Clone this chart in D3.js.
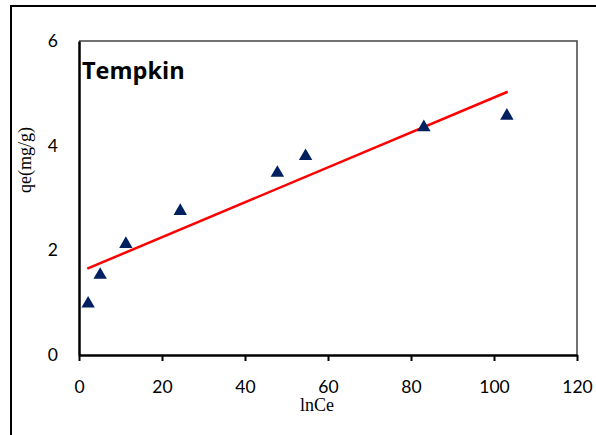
<!DOCTYPE html>
<html>
<head>
<meta charset="utf-8">
<script src="https://cdn.jsdelivr.net/npm/d3@7"></script>
<style>
  body { margin: 0; background: #fff; }
  svg { display: block; }
</style>
</head>
<body>
<div class="container"></div>
<script>
// measured points (lnCe, qe)
var lnCe = [2.2, 5.1, 11.3, 24.4, 47.8, 54.6, 83.1, 103.1];
var qe = [0.98, 1.53, 2.12, 2.75, 3.48, 3.80, 4.35, 4.57];

// trend line ends
var fitX = [2.0, 103.3];
var fitY = [1.65, 5.03];

var xTicks = [0, 20, 40, 60, 80, 100, 120];
var yTicks = [0, 2, 4, 6];

const WIDTH = 596;
const HEIGHT = 435;
const LEFT = 79, RIGHT = 577, TOP = 41, BOTTOM = 355;

var svg = d3.select('.container').append('svg')
    .attr('width', WIDTH)
    .attr('height', HEIGHT);

// outer chart frame (runs off the right and bottom edge)
svg.append('rect')
    .attr('x', 11).attr('y', 6)
    .attr('width', 600).attr('height', 440)
    .attr('fill', 'none')
    .attr('stroke', '#000')
    .attr('stroke-width', 2);

var xScale = d3.scaleLinear().domain([0, 120]).range([LEFT, RIGHT]);
var yScale = d3.scaleLinear().domain([0, 6]).range([BOTTOM, TOP]);

// plot area top/right border
svg.append('path')
    .attr('d', 'M' + LEFT + ',' + TOP + 'H' + RIGHT + 'V' + BOTTOM)
    .attr('fill', 'none')
    .attr('stroke', '#444')
    .attr('stroke-width', 1.5);

var xAxis = svg.append('g')
    .attr('transform', 'translate(0,' + BOTTOM + ')')
    .call(d3.axisBottom(xScale).tickValues(xTicks).tickFormat(d3.format('d'))
        .tickSize(6).tickPadding(20).tickSizeOuter(0));
xAxis.select('.domain').attr('stroke-width', 2.5);
xAxis.selectAll('.tick line').attr('stroke-width', 2);
xAxis.selectAll('text')
    .attr('font-family', 'Lato, sans-serif')
    .attr('font-size', 17.5)
    .attr('fill', '#000');

var yAxis = svg.append('g')
    .attr('transform', 'translate(' + LEFT + ',0)')
    .call(d3.axisLeft(yScale).tickValues(yTicks).tickFormat(d3.format('d'))
        .tickSize(0).tickPadding(21).tickSizeOuter(0));
yAxis.select('.domain').attr('stroke-width', 2.5);
yAxis.selectAll('text')
    .attr('font-family', 'Lato, sans-serif')
    .attr('font-size', 17.5)
    .attr('fill', '#000');

// trend line
svg.append('path')
    .attr('d', d3.line()
        .x(function (d) { return xScale(d); })
        .y(function (d, i) { return yScale(fitY[i]); })(fitX))
    .attr('fill', 'none')
    .attr('stroke', '#ff0000')
    .attr('stroke-width', 2.5);

// markers
svg.selectAll('.pt')
    .data(lnCe)
    .enter().append('path')
    .attr('class', 'pt')
    .attr('d', d3.symbol().type(d3.symbolTriangle).size(78))
    .attr('transform', function (d, i) {
        return 'translate(' + xScale(d) + ',' + yScale(qe[i]) + ')';
    })
    .attr('fill', '#002060');

svg.append('text')
    .attr('x', 82).attr('y', 79)
    .attr('font-family', '"Open Sans", sans-serif')
    .attr('font-weight', 'bold')
    .attr('font-size', 23.5)
    .text('Tempkin');

svg.append('text')
    .attr('x', 300).attr('y', 411)
    .attr('font-family', '"Liberation Serif", serif')
    .attr('font-size', 18)
    .text('lnCe');

svg.append('text')
    .attr('transform', 'translate(31,160) rotate(-90)')
    .attr('text-anchor', 'middle')
    .attr('font-family', '"Liberation Serif", serif')
    .attr('font-size', 18)
    .text('qe(mg/g)');
</script>
</body>
</html>
